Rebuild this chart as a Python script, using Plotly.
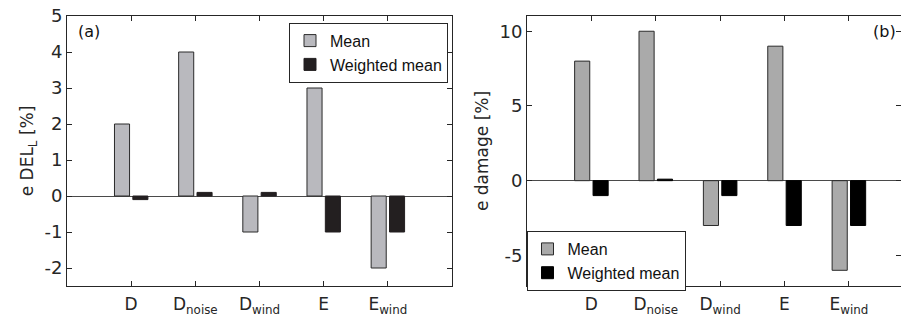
import plotly.graph_objects as go

categories = ["D", "D<sub>noise</sub>", "D<sub>wind</sub>", "E", "E<sub>wind</sub>"]
cat_pos = [1, 2, 3, 4, 5]

del_mean = [2, 4, -1, 3, -2]
del_weighted = [-0.1, 0.1, 0.1, -1, -1]
del_ticks = [-2, -1, 0, 1, 2, 3, 4, 5]

dmg_mean = [8, 10, -3, 9, -6]
dmg_weighted = [-1, 0.1, -1, -3, -3]
dmg_ticks = [-5, 0, 5, 10]

W, H = 901, 322
ml, mr, mt, mb = 0, 0, 16, 36

def px(x):
    return x / W

def py(y):
    return (H - mb - y) / (H - mt - mb)

fig = go.Figure()

bar_w = 0.235
fig.add_trace(go.Bar(x=cat_pos, y=del_mean, name="Mean", width=bar_w, offset=-0.26,
                     marker=dict(color="#b9b9be", line=dict(color="#2a2a2a", width=1)),
                     xaxis="x", yaxis="y", legend="legend"))
fig.add_trace(go.Bar(x=cat_pos, y=del_weighted, name="Weighted mean", width=bar_w, offset=0.026,
                     marker=dict(color="#231f20", line=dict(color="#231f20", width=1)),
                     xaxis="x", yaxis="y", legend="legend"))
fig.add_trace(go.Bar(x=cat_pos, y=dmg_mean, name="Mean", width=bar_w, offset=-0.26,
                     marker=dict(color="#aaaaaa", line=dict(color="#2a2a2a", width=1)),
                     xaxis="x2", yaxis="y2", legend="legend2"))
fig.add_trace(go.Bar(x=cat_pos, y=dmg_weighted, name="Weighted mean", width=bar_w, offset=0.026,
                     marker=dict(color="#000000", line=dict(color="#000000", width=1)),
                     xaxis="x2", yaxis="y2", legend="legend2"))

xtickfont = dict(family="DejaVu Sans", size=17, color="#262626")
ytickfont = dict(family="DejaVu Sans", size=18, color="#262626")
common_x = dict(tickvals=cat_pos, ticktext=categories, ticks="inside", ticklen=5,
                tickcolor="#262626", showline=True, linecolor="#262626", linewidth=1,
                mirror="ticks", showgrid=False, zeroline=False, tickfont=xtickfont,
                ticklabelstandoff=3, automargin=False)
common_y = dict(ticks="inside", ticklen=5, tickcolor="#262626", showline=True,
                linecolor="#262626", linewidth=1, mirror="ticks", showgrid=False,
                zeroline=True, zerolinecolor="#4a4a4a", zerolinewidth=1, tickfont=ytickfont,
                automargin=False)

fig.update_layout(
    width=W, height=H,
    margin=dict(l=ml, r=mr, t=mt, b=mb, autoexpand=False),
    paper_bgcolor="white", plot_bgcolor="white",
    barmode="overlay",
    xaxis=dict(domain=[px(67), px(452)], range=[0, 6], anchor="y", **common_x),
    yaxis=dict(range=[-2.5, 5], tickvals=del_ticks, ticktext=[str(v) for v in del_ticks], anchor="x",
               title=dict(text="e DEL<sub>L</sub> [%]", font=dict(family="DejaVu Sans", size=17, color="#262626"),
                          standoff=6),
               **common_y),
    xaxis2=dict(domain=[px(527), 1.0], range=[0, 5.81], anchor="y2", **common_x),
    yaxis2=dict(range=[-7.05, 11.02], tickvals=dmg_ticks, ticktext=[str(v) for v in dmg_ticks], anchor="x2",
                title=dict(text="e damage [%]", font=dict(family="DejaVu Sans", size=17, color="#262626"),
                           standoff=6),
                **common_y),
    legend=dict(x=px(448), y=py(22.7), xanchor="right", yanchor="top",
                bordercolor="#262626", borderwidth=1, bgcolor="white",
                font=dict(family="Liberation Sans", size=16, color="#111"),
                itemwidth=30, tracegroupgap=0),
    legend2=dict(x=px(606), y=py(231), xanchor="center", yanchor="top",
                 bordercolor="#262626", borderwidth=1, bgcolor="white",
                 font=dict(family="Liberation Sans", size=16, color="#111"),
                 itemwidth=30, tracegroupgap=0),
    annotations=[
        dict(text="(a)", x=px(76), y=py(32), xref="paper", yref="paper",
             xanchor="left", yanchor="middle", showarrow=False,
             font=dict(family="DejaVu Sans", size=16, color="#111")),
        dict(text="(b)", x=px(898), y=py(31), xref="paper", yref="paper",
             xanchor="right", yanchor="middle", showarrow=False,
             font=dict(family="DejaVu Sans", size=16, color="#111")),
    ],
)

fig.write_html("out.html", config={"displayModeBar": False},
               post_script="document.body.style.margin='0';document.body.style.overflow='hidden';")
